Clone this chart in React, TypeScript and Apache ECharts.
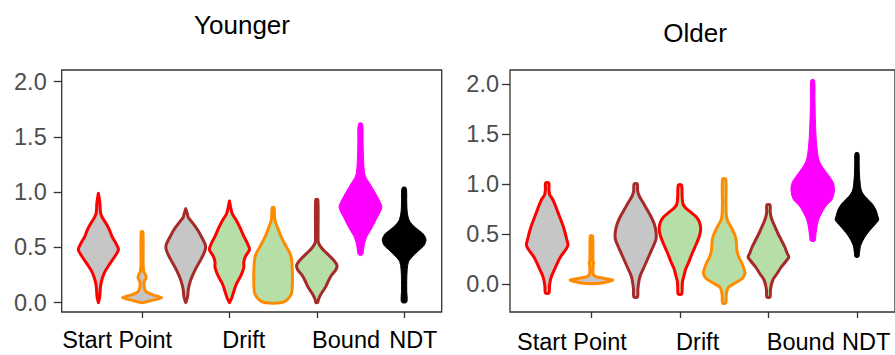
import React, { useEffect, useRef } from "react";
import * as echarts from "echarts";

const FONT = "'Liberation Sans', Arial, Helvetica, sans-serif";

const panelTitles = ["Younger", "Older"];
const categories = ["Start Point", "Drift", "Bound", "NDT"];
const yTickValues = [0, 0.5, 1, 1.5, 2];
const xTickValues = [2, 4, 6, 8];

// violin positions 1..8 : [Start Point x3, Drift x3, Bound, NDT]
const strokeColors = ["#FF0000", "#FF8C00", "#A52A2A", "#FF0000", "#FF8C00", "#A52A2A", "#FF00FF", "#000000"];
const fillColors = ["#C6C6C6", "#C6C6C6", "#C6C6C6", "#B6DEA6", "#B6DEA6", "#B6DEA6", "#FF00FF", "#000000"];
const strokeWidths = [3, 3, 3, 3, 3, 3, 1, 1];

// Each violin profile: [value, half-width (in x-axis units)]
// ---- Younger ----
const youngerStartA = [[0.0, 0.0], [0.05, 0.03], [0.15, 0.05], [0.22, 0.09], [0.28, 0.15], [0.35, 0.26], [0.42, 0.38], [0.48, 0.46], [0.53, 0.41], [0.6, 0.31], [0.66, 0.25], [0.72, 0.17], [0.77, 0.09], [0.81, 0.05], [0.9, 0.035], [0.99, 0.0]];
const youngerStartB = [[0.0, 0.02], [0.02, 0.22], [0.045, 0.45], [0.07, 0.24], [0.1, 0.09], [0.14, 0.05], [0.19, 0.05], [0.22, 0.09], [0.25, 0.08], [0.28, 0.04], [0.35, 0.025], [0.64, 0.02]];
const youngerStartC = [[0.0, 0.0], [0.05, 0.04], [0.12, 0.06], [0.2, 0.11], [0.3, 0.22], [0.4, 0.36], [0.47, 0.44], [0.52, 0.45], [0.58, 0.38], [0.66, 0.27], [0.72, 0.16], [0.77, 0.06], [0.8, 0.04], [0.85, 0.0]];
const youngerDriftA = [[0.0, 0.0], [0.04, 0.05], [0.1, 0.1], [0.17, 0.16], [0.25, 0.27], [0.32, 0.33], [0.37, 0.33], [0.42, 0.37], [0.48, 0.46], [0.53, 0.42], [0.6, 0.33], [0.68, 0.24], [0.75, 0.15], [0.8, 0.07], [0.84, 0.04], [0.92, 0.0]];
const youngerDriftB = [[0.0, 0.2], [0.03, 0.33], [0.08, 0.42], [0.15, 0.44], [0.3, 0.44], [0.4, 0.42], [0.45, 0.38], [0.5, 0.31], [0.6, 0.18], [0.68, 0.1], [0.75, 0.04], [0.86, 0.02]];
const youngerDriftC = [[0.0, 0.02], [0.03, 0.04], [0.08, 0.1], [0.14, 0.2], [0.2, 0.27], [0.25, 0.34], [0.3, 0.44], [0.34, 0.46], [0.4, 0.35], [0.45, 0.22], [0.49, 0.12], [0.53, 0.05], [0.56, 0.03], [0.93, 0.025]];
const youngerBound = [[0.43, 0.04], [0.47, 0.07], [0.53, 0.09], [0.6, 0.15], [0.68, 0.27], [0.76, 0.37], [0.86, 0.49], [0.92, 0.44], [1.0, 0.33], [1.08, 0.21], [1.13, 0.13], [1.18, 0.09], [1.3, 0.07], [1.45, 0.06], [1.62, 0.045]];
const youngerNDT = [[0.0, 0.05], [0.03, 0.07], [0.1, 0.06], [0.2, 0.06], [0.3, 0.07], [0.37, 0.1], [0.42, 0.2], [0.47, 0.33], [0.52, 0.46], [0.57, 0.5], [0.62, 0.44], [0.66, 0.32], [0.7, 0.2], [0.75, 0.11], [0.82, 0.07], [0.9, 0.06], [1.04, 0.045]];

// ---- Older ----
const olderStartA = [[-0.09, 0.04], [-0.03, 0.05], [0.03, 0.07], [0.08, 0.1], [0.17, 0.19], [0.27, 0.3], [0.35, 0.43], [0.39, 0.47], [0.45, 0.44], [0.52, 0.4], [0.58, 0.36], [0.64, 0.31], [0.72, 0.24], [0.78, 0.19], [0.85, 0.12], [0.89, 0.06], [0.94, 0.04], [1.01, 0.035]];
const olderStartB = [[0.005, 0.1], [0.02, 0.35], [0.04, 0.48], [0.055, 0.3], [0.07, 0.12], [0.09, 0.05], [0.12, 0.035], [0.19, 0.04], [0.21, 0.05], [0.23, 0.035], [0.48, 0.025]];
const olderStartC = [[-0.13, 0.04], [-0.05, 0.05], [0.02, 0.07], [0.08, 0.1], [0.15, 0.17], [0.21, 0.23], [0.3, 0.32], [0.38, 0.4], [0.45, 0.46], [0.52, 0.46], [0.6, 0.42], [0.68, 0.34], [0.75, 0.25], [0.82, 0.16], [0.88, 0.08], [0.93, 0.045], [1.0, 0.035]];
const olderDriftA = [[-0.1, 0.04], [-0.03, 0.05], [0.03, 0.06], [0.08, 0.09], [0.15, 0.13], [0.22, 0.2], [0.31, 0.28], [0.4, 0.37], [0.48, 0.44], [0.55, 0.47], [0.62, 0.44], [0.67, 0.37], [0.72, 0.24], [0.76, 0.13], [0.8, 0.07], [0.87, 0.05], [0.99, 0.035]];
const olderDriftB = [[-0.19, 0.035], [-0.12, 0.045], [-0.07, 0.06], [-0.03, 0.1], [0.01, 0.25], [0.06, 0.42], [0.11, 0.47], [0.16, 0.44], [0.21, 0.4], [0.27, 0.33], [0.33, 0.29], [0.38, 0.28], [0.44, 0.27], [0.49, 0.24], [0.54, 0.19], [0.59, 0.13], [0.63, 0.08], [0.68, 0.05], [0.8, 0.04], [1.05, 0.035]];
const olderDriftC = [[-0.13, 0.035], [-0.06, 0.045], [0.0, 0.07], [0.05, 0.11], [0.1, 0.19], [0.17, 0.29], [0.23, 0.4], [0.27, 0.46], [0.31, 0.42], [0.37, 0.37], [0.44, 0.29], [0.51, 0.21], [0.57, 0.15], [0.62, 0.1], [0.67, 0.06], [0.72, 0.04], [0.79, 0.035]];
const olderBound = [[0.43, 0.05], [0.48, 0.07], [0.55, 0.09], [0.62, 0.12], [0.67, 0.16], [0.73, 0.23], [0.78, 0.3], [0.84, 0.43], [0.9, 0.48], [0.96, 0.49], [1.02, 0.46], [1.08, 0.37], [1.14, 0.27], [1.2, 0.18], [1.26, 0.13], [1.35, 0.1], [1.45, 0.08], [1.65, 0.06], [1.85, 0.05], [2.04, 0.04]];
const olderNDT = [[0.27, 0.04], [0.32, 0.06], [0.38, 0.08], [0.44, 0.14], [0.49, 0.21], [0.54, 0.3], [0.59, 0.4], [0.64, 0.49], [0.68, 0.47], [0.74, 0.43], [0.8, 0.35], [0.85, 0.24], [0.9, 0.14], [0.95, 0.09], [1.02, 0.07], [1.1, 0.055], [1.2, 0.05], [1.31, 0.04]];

const youngerViolins = [youngerStartA, youngerStartB, youngerStartC, youngerDriftA, youngerDriftB, youngerDriftC, youngerBound, youngerNDT];
const olderViolins = [olderStartA, olderStartB, olderStartC, olderDriftA, olderDriftB, olderDriftC, olderBound, olderNDT];

// layout
const youngerLabelPos = [1.43, 4.33, 6.67, 8.21];
const olderLabelPos = [1.56, 4.4, 6.73, 8.21];

function makeRender(violins: number[][][]) {
  return (params: any, api: any) => {
    const idx = api.value(0);
    const prof = violins[idx - 1];
    const pts: number[][] = [];
    for (let i = 0; i < prof.length; i++) pts.push(api.coord([idx + prof[i][1], prof[i][0]]));
    for (let i = prof.length - 1; i >= 0; i--) pts.push(api.coord([idx - prof[i][1], prof[i][0]]));
    const k = idx - 1;
    return {
      type: "polygon",
      shape: { points: pts, smooth: 0.3 },
      style: { fill: fillColors[k], stroke: strokeColors[k], lineWidth: strokeWidths[k], lineJoin: "round" },
    };
  };
}

function labelFormatter(pos: number[]) {
  return (v: number) => {
    let best = 0;
    for (let i = 0; i < pos.length; i++) if (Math.abs(pos[i] - v) < Math.abs(pos[best] - v)) best = i;
    return categories[best];
  };
}

export default function App() {
  const ref = useRef<HTMLDivElement>(null);
  useEffect(() => {
    if (!ref.current) return;
    const chart = echarts.init(ref.current, undefined, { renderer: "svg" });
    const grids = [
      { left: 61.7, top: 70, width: 380, height: 242 },
      { left: 510, top: 70, width: 386.5, height: 242 },
    ];
    const yRanges = [
      [-0.085, 2.105],
      [-0.28, 2.14],
    ];
    const labelPos = [youngerLabelPos, olderLabelPos];
    const xMargins = [16, 18];
    const yMargins = [15, 11];
    const option: any = {
      animation: false,
      grid: grids.map((g) => ({ ...g, show: true, borderColor: "#333333", borderWidth: 1.3, backgroundColor: "transparent", containLabel: false })),
      xAxis: [0, 1].map((i) => ({
        type: "value",
        gridIndex: i,
        min: 0.16,
        max: 8.86,
        axisLine: { show: false, onZero: false },
        splitLine: { show: false },
        axisTick: { show: true, customValues: xTickValues, length: 6, lineStyle: { color: "#333333", width: 1.3 } },
        axisLabel: {
          customValues: labelPos[i],
          formatter: labelFormatter(labelPos[i]),
          fontSize: 23.5,
          fontFamily: FONT,
          color: "#000000",
          margin: xMargins[i],
        },
      })),
      yAxis: [0, 1].map((i) => ({
        type: "value",
        gridIndex: i,
        min: yRanges[i][0],
        max: yRanges[i][1],
        axisLine: { show: false, onZero: false },
        splitLine: { show: false },
        axisTick: { show: true, customValues: yTickValues, length: 8, lineStyle: { color: "#333333", width: 1.3 } },
        axisLabel: {
          customValues: yTickValues,
          formatter: (v: number) => v.toFixed(1),
          fontSize: 23.5,
          fontFamily: FONT,
          color: "#4D4D4D",
          margin: yMargins[i],
        },
      })),
      series: [youngerViolins, olderViolins].map((v, i) => ({
        type: "custom",
        xAxisIndex: i,
        yAxisIndex: i,
        renderItem: makeRender(v),
        data: v.map((_, j) => [j + 1]),
        encode: { x: 0 },
        clip: false,
      })),
      graphic: [
        { type: "text", x: 242, y: 25, style: { text: panelTitles[0], fontSize: 26, fontFamily: FONT, fill: "#000", textAlign: "center", textVerticalAlign: "middle" } },
        { type: "text", x: 695, y: 33, style: { text: panelTitles[1], fontSize: 26, fontFamily: FONT, fill: "#000", textAlign: "center", textVerticalAlign: "middle" } },
      ],
    };
    chart.setOption(option);
    return () => chart.dispose();
  }, []);
  return (
    <div
      ref={ref}
      style={{ position: "fixed", left: 0, top: 0, width: 895, height: 355, background: "#fff" }}
    />
  );
}
